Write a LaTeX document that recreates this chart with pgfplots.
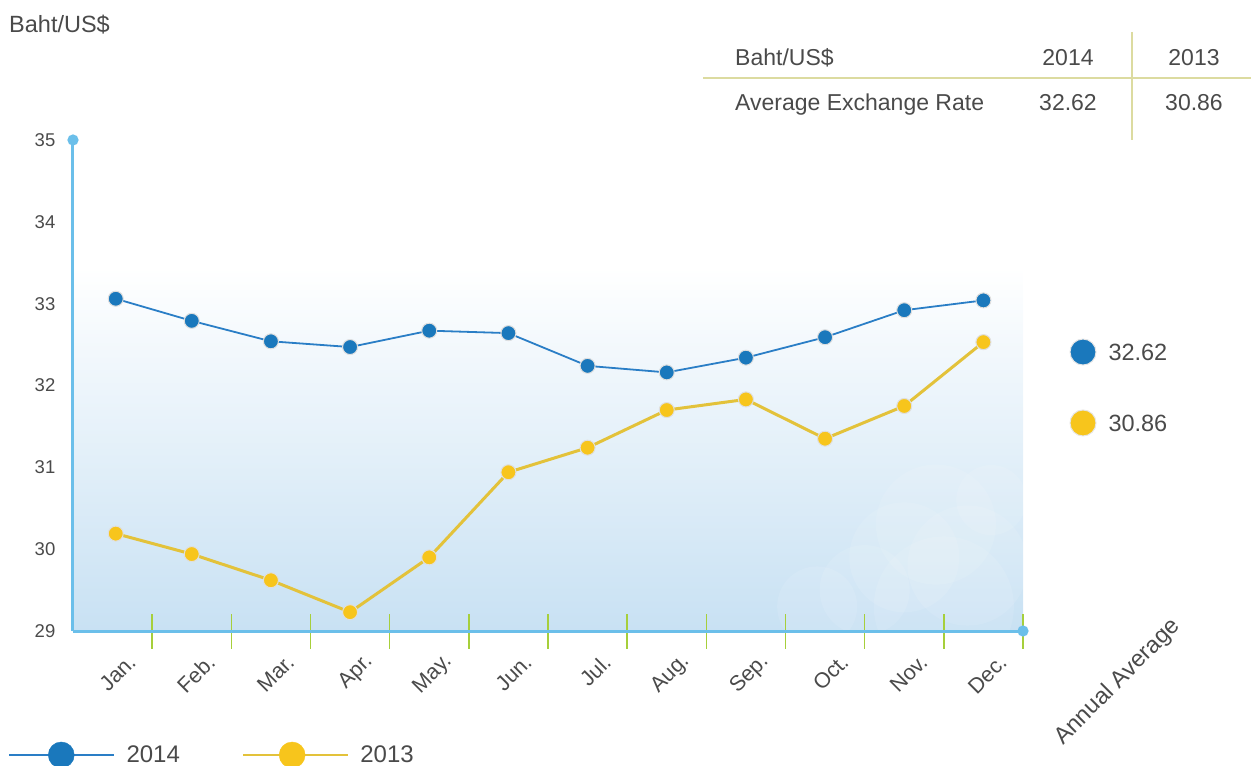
\documentclass[border=0pt]{standalone}
\usepackage{pgfplots}
\pgfplotsset{compat=1.18}
\usepackage{fontspec}
\setmainfont{Liberation Sans}
\usetikzlibrary{arrows.meta}
\definecolor{textgray}{HTML}{4A4A4A}
\definecolor{axisblue}{HTML}{6BBFEA}
\definecolor{tickgreen}{HTML}{A6CF3B}
\definecolor{lineA}{HTML}{2A7EC6}
\definecolor{markA}{HTML}{1A78BC}
\definecolor{lineB}{HTML}{E3C23A}
\definecolor{markB}{HTML}{F7C51C}
\definecolor{tableline}{HTML}{DCDBA0}
\definecolor{bgblue}{HTML}{C8E1F3}
\newcommand{\fs}[1]{\fontsize{#1}{#1}\selectfont}
\begin{document}
\begin{tikzpicture}[x=1pt,y=1pt]
\useasboundingbox (-73,-135) rectangle (1178,631);
\node[anchor=base west, text=textgray, font=\fs{23.5}, inner sep=0pt] at (-64,598) {Baht/US\$};
% table
\draw[tableline, line width=2.5pt] (630,553) -- (1178,553);
\draw[tableline, line width=2.5pt] (1059,599) -- (1059,491);
\begin{scope}[every node/.style={text=textgray, font=\fs{23}, inner sep=0pt}]
\node[anchor=base west] at (662,565) {Baht/US\$};
\node[anchor=base] at (995,565) {2014};
\node[anchor=base] at (1121,565) {2013};
\node[anchor=base west] at (662,520) {Average Exchange Rate};
\node[anchor=base] at (995,520) {32.62};
\node[anchor=base] at (1121,520) {30.86};
\end{scope}
\begin{axis}[
  anchor=south west, scale only axis,
  width=950pt, height=491pt,
  xmin=0, xmax=12, ymin=29, ymax=35,
  axis lines=left,
  axis line style={axisblue, line width=3pt, shorten >=-5.5pt, -{Circle[length=11pt]}},
  xtick={1,...,12},
  xticklabels={Jan.,Feb.,Mar.,Apr.,May.,Jun.,Jul.,Aug.,Sep.,Oct.,Nov.,Dec.},
  ytick={29,...,35},
  tick align=center, major tick length=35pt,
  xtick style={tickgreen, line width=1.5pt},
  ytick style={draw=none},
  x tick label style={font=\fs{21.5}, text=textgray, xshift=-20pt, yshift=-10pt, rotate=45, anchor=east, inner sep=0pt},
  y tick label style={font=\fs{18.5}, text=textgray, inner sep=0pt},
  /pgf/number format/assume math mode=true,
  axis on top, clip=false,
  legend style={at={(-0.0684,-0.2525)}, anchor=west, draw=none, fill=none,
    inner sep=0pt, outer sep=0pt, font=\fs{24}, text=textgray,
    nodes={inner sep=0pt},
    /tikz/every odd column/.append style={column sep=11pt},
    /tikz/every even column/.append style={column sep=62pt}},
  legend columns=2,
]
\fill[top color=white, bottom color=bgblue] (axis cs:0,33.45) rectangle (axis cs:12,29);
\begin{scope}
\clip (axis cs:0,33.45) rectangle (axis cs:12,29);
\fill[white, opacity=0.1] (axis cs:10.9,30.3) circle [radius=60pt];
\fill[white, opacity=0.1] (axis cs:10.5,29.9) circle [radius=55pt];
\fill[white, opacity=0.1] (axis cs:11.3,29.8) circle [radius=60pt];
\fill[white, opacity=0.1] (axis cs:10.0,29.5) circle [radius=45pt];
\fill[white, opacity=0.1] (axis cs:11.0,29.3) circle [radius=70pt];
\fill[white, opacity=0.1] (axis cs:9.4,29.3) circle [radius=40pt];
\fill[white, opacity=0.1] (axis cs:11.6,30.6) circle [radius=35pt];
\end{scope}

\addlegendimage{legend image code/.code={\draw[lineA, line width=2.5pt] (0pt,0pt) -- (105pt,0pt); \fill[markA] (52pt,0pt) circle [radius=13pt];}}
\addlegendentry{2014}
\addlegendimage{legend image code/.code={\draw[lineB, line width=2.5pt] (0pt,0pt) -- (105pt,0pt); \fill[markB] (49pt,0pt) circle [radius=13pt];}}
\addlegendentry{2013}

\addplot[lineA, line width=1.8pt, mark=*, mark size=7.5pt,
  mark options={fill=markA, draw=gray!25, line width=1pt}, forget plot]
  coordinates {(0.54,33.06) (1.5,32.79) (2.5,32.54) (3.5,32.47) (4.5,32.67) (5.5,32.64)
               (6.5,32.24) (7.5,32.16) (8.5,32.34) (9.5,32.59) (10.5,32.92) (11.5,33.04)};
\addplot[lineB, line width=3pt, mark=*, mark size=7.5pt,
  mark options={fill=markB, draw=gray!25, line width=1pt}, forget plot]
  coordinates {(0.54,30.19) (1.5,29.94) (2.5,29.62) (3.5,29.23) (4.5,29.90) (5.5,30.94)
               (6.5,31.24) (7.5,31.70) (8.5,31.83) (9.5,31.35) (10.5,31.75) (11.5,32.53)};
% annual averages
\addplot[only marks, mark=*, mark size=13pt, mark options={fill=markA, draw=gray!20, line width=1pt}, forget plot,
  nodes near coords={32.62}, nodes near coords style={anchor=west, xshift=25pt, font=\fs{23.5}, text=textgray, inner sep=0pt}]
  coordinates {(12.758,32.409)};
\addplot[only marks, mark=*, mark size=13pt, mark options={fill=markB, draw=gray!20, line width=1pt}, forget plot,
  nodes near coords={30.86}, nodes near coords style={anchor=west, xshift=25pt, font=\fs{23.5}, text=textgray, inner sep=0pt}]
  coordinates {(12.758,31.542)};
\end{axis}
\node[rotate=45, anchor=east, text=textgray, font=\fs{23.5}, inner sep=0pt] at (1104,8) {Annual Average};
\end{tikzpicture}
\end{document}
